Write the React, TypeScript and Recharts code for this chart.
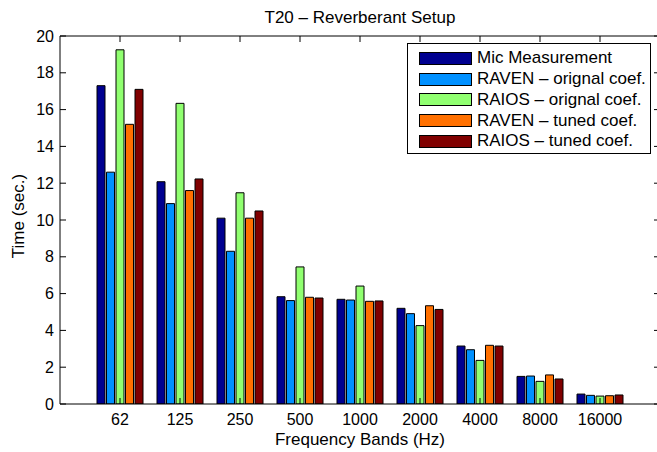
import React from 'react';
import { BarChart, Bar, XAxis, YAxis, Legend, Label, ReferenceLine } from 'recharts';

const bands = ['62', '125', '250', '500', '1000', '2000', '4000', '8000', '16000'];
const micMeasurement = [17.3, 12.08, 10.1, 5.83, 5.69, 5.2, 3.15, 1.5, 0.54];
const ravenOriginal = [12.6, 10.89, 8.3, 5.62, 5.65, 4.91, 2.95, 1.52, 0.47];
const raiosOriginal = [19.25, 16.34, 11.48, 7.45, 6.41, 4.26, 2.37, 1.23, 0.43];
const ravenTuned = [15.2, 11.6, 10.1, 5.8, 5.58, 5.34, 3.19, 1.58, 0.45];
const raiosTuned = [17.1, 12.23, 10.49, 5.76, 5.6, 5.14, 3.15, 1.36, 0.49];
const yTicks = [0, 2, 4, 6, 8, 10, 12, 14, 16, 18, 20];
const yMax = 20;

const seriesKeys = ['mic', 'ravenOrig', 'raiosOrig', 'ravenTuned', 'raiosTuned'];
const seriesNames = [
  'Mic Measurement',
  'RAVEN \u2013 orignal coef.',
  'RAIOS \u2013 orignal coef.',
  'RAVEN \u2013 tuned coef.',
  'RAIOS \u2013 tuned coef.',
];
const seriesColors = ['#000090', '#0090ff', '#90ff70', '#ff7000', '#800000'];
const seriesValues = [micMeasurement, ravenOriginal, raiosOriginal, ravenTuned, raiosTuned];

const data = bands.map((band, i) => {
  const row: any = { band };
  seriesKeys.forEach((k, s) => {
    row[k] = seriesValues[s][i];
  });
  return row;
});

// layout
const CHART_W = 680;
const CHART_H = 452;
const MARGIN = { top: 36, right: 20, bottom: 0, left: 0 };
const Y_AXIS_W = 60;
const X_AXIS_H = 48;
const PLOT_W = CHART_W - MARGIN.left - MARGIN.right - Y_AXIS_W;
const PLOT_H = CHART_H - MARGIN.top - MARGIN.bottom - X_AXIS_H;

const FONT = '"Liberation Sans", Arial, Helvetica, sans-serif';
const TICK = 6;

const LeftTick = (p: any) => (
  <g>
    <line x1={p.x} y1={p.y} x2={p.x + TICK} y2={p.y} stroke="#000" strokeWidth={1} />
    <line x1={p.x + PLOT_W} y1={p.y} x2={p.x + PLOT_W - TICK} y2={p.y} stroke="#000" strokeWidth={1} />
    <text x={p.x - 6} y={p.y} dy="0.35em" textAnchor="end" fontSize={16} fontFamily={FONT} fill="#000">
      {p.payload.value}
    </text>
  </g>
);

const BottomTick = (p: any) => (
  <g>
    <line x1={p.x} y1={p.y} x2={p.x} y2={p.y - TICK} stroke="#000" strokeWidth={1} />
    <line x1={p.x} y1={p.y - PLOT_H} x2={p.x} y2={p.y - PLOT_H + TICK} stroke="#000" strokeWidth={1} />
    <text x={p.x} y={p.y + 21} textAnchor="middle" fontSize={16} fontFamily={FONT} fill="#000">
      {p.payload.value}
    </text>
  </g>
);

const TitleLabel = (props: any) => {
  const vb = props.viewBox;
  return (
    <text x={vb.x + vb.width / 2} y={vb.y - 13} textAnchor="middle" fontSize={17} fontFamily={FONT} fill="#000">
      T20 {'\u2013'} Reverberant Setup
    </text>
  );
};

const XLabel = (props: any) => {
  const vb = props.viewBox;
  return (
    <text x={vb.x + vb.width / 2} y={vb.y + 41} textAnchor="middle" fontSize={17} fontFamily={FONT} fill="#000">
      Frequency Bands (Hz)
    </text>
  );
};

const YLabel = (props: any) => {
  const vb = props.viewBox;
  const cx = vb.x + 18;
  const cy = vb.y + vb.height / 2 - 4;
  return (
    <text
      x={cx}
      y={cy}
      transform={`rotate(-90 ${cx} ${cy})`}
      textAnchor="middle"
      dominantBaseline="central"
      fontSize={17}
      fontFamily={FONT}
      fill="#000"
    >
      Time (sec.)
    </text>
  );
};

const LegendBox = () => (
  <div
    style={{
      boxSizing: 'border-box',
      width: 244,
      height: 111,
      border: '1px solid #000',
      background: '#fff',
      padding: '4px 0 0 11px',
      fontFamily: FONT,
      fontSize: 17,
      color: '#000',
    }}
  >
    {seriesNames.map((n, i) => (
      <div key={n} style={{ display: 'flex', alignItems: 'center', height: 20.75 }}>
        <span
          style={{
            display: 'inline-block',
            width: 53,
            height: 13,
            background: seriesColors[i],
            border: '1px solid #000',
            boxSizing: 'border-box',
            flex: 'none',
          }}
        />
        <span style={{ marginLeft: 5, whiteSpace: 'nowrap', lineHeight: '20px' }}>{n}</span>
      </div>
    ))}
  </div>
);

export default function App() {
  return (
    <div
      style={{
        position: 'fixed',
        left: 0,
        top: 0,
        width: 657,
        height: 452,
        overflow: 'hidden',
        background: '#fff',
      }}
    >
      <BarChart
        width={CHART_W}
        height={CHART_H}
        data={data}
        margin={MARGIN}
        barCategoryGap={7}
        barGap={1.5}
      >
        <XAxis
          dataKey="band"
          orientation="bottom"
          height={X_AXIS_H}
          padding={{ left: 30, right: 30 }}
          interval={0}
          tickLine={false}
          tickSize={0}
          tickMargin={0}
          tick={BottomTick}
          axisLine={{ stroke: '#000', strokeWidth: 1 }}
        >
          <Label content={XLabel} />
        </XAxis>
        <YAxis
          orientation="left"
          width={Y_AXIS_W}
          domain={[0, yMax]}
          ticks={yTicks}
          interval={0}
          allowDataOverflow
          tickLine={false}
          tickSize={0}
          tickMargin={0}
          tick={LeftTick}
          axisLine={{ stroke: '#000', strokeWidth: 1 }}
        >
          <Label content={YLabel} />
        </YAxis>
        <ReferenceLine y={yMax} stroke="#000" strokeWidth={1} label={<Label content={TitleLabel} />} />
        <Legend
          layout="vertical"
          align="center"
          verticalAlign="middle"
          wrapperStyle={{ position: 'absolute', left: 407, top: 43, width: 244, height: 111 }}
          content={() => <LegendBox />}
        />
        {seriesKeys.map((k, i) => (
          <Bar
            key={k}
            dataKey={k}
            name={seriesNames[i]}
            fill={seriesColors[i]}
            stroke="#000"
            strokeWidth={1}
            isAnimationActive={false}
          />
        ))}
      </BarChart>
    </div>
  );
}
